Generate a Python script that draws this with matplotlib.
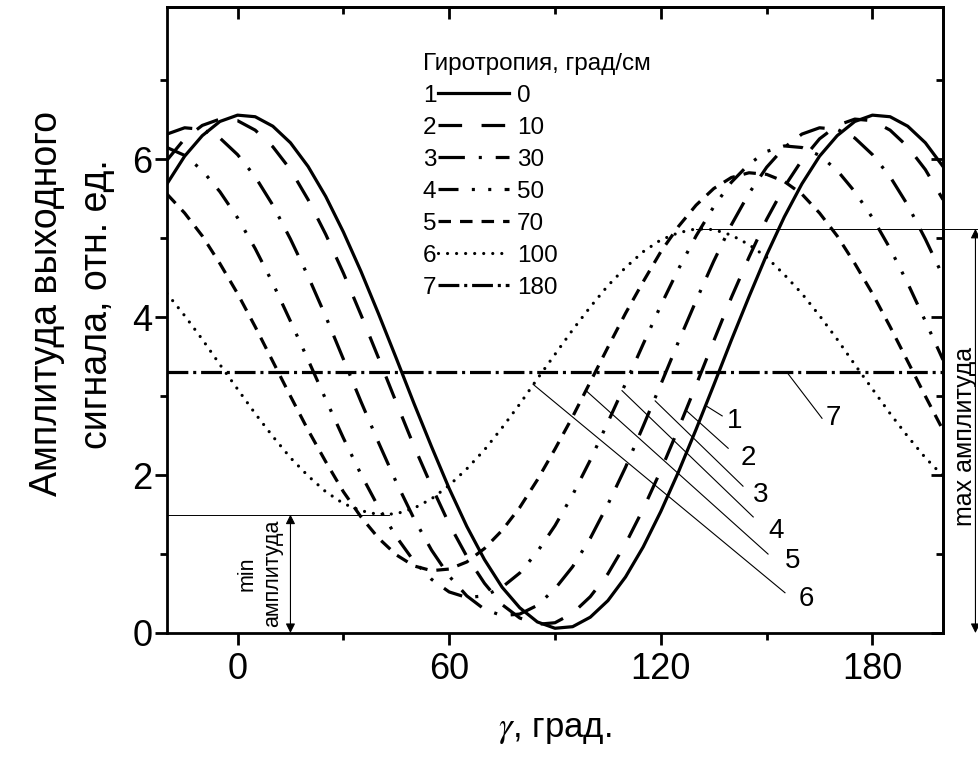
import numpy as np
import matplotlib
matplotlib.use('Agg')
import matplotlib.pyplot as plt
from matplotlib.ticker import MultipleLocator

plt.rcParams['font.family'] = ['Liberation Sans', 'DejaVu Sans']
plt.rcParams['mathtext.fontset'] = 'stix'
plt.rcParams['lines.scale_dashes'] = False

#%% Данные, шаг по углу 5 град.
gamma = np.arange(-20, 201, 5)

amp_0 = [5.69, 6.04, 6.30, 6.48, 6.56, 6.54, 6.42, 6.21, 5.91, 5.53, 5.08, 4.58, 4.04, 3.48, 2.91,
         2.36, 1.83, 1.35, 0.93, 0.58, 0.32, 0.14, 0.06, 0.08, 0.20, 0.41, 0.71, 1.09, 1.54, 2.04,
         2.58, 3.14, 3.71, 4.26, 4.79, 5.27, 5.69, 6.04, 6.30, 6.48, 6.56, 6.54, 6.42, 6.21, 5.91]
amp_10 = [5.99, 6.26, 6.43, 6.51, 6.49, 6.37, 6.16, 5.87, 5.49, 5.05, 4.56, 4.03, 3.48, 2.92, 2.37,
          1.86, 1.38, 0.97, 0.63, 0.36, 0.19, 0.11, 0.13, 0.25, 0.46, 0.75, 1.13, 1.57, 2.06, 2.59,
          3.14, 3.70, 4.25, 4.76, 5.24, 5.65, 5.99, 6.26, 6.43, 6.51, 6.49, 6.37, 6.16, 5.87, 5.49]
amp_30 = [6.32, 6.40, 6.38, 6.27, 6.06, 5.78, 5.42, 4.99, 4.52, 4.01, 3.47, 2.93, 2.41, 1.91, 1.45,
          1.05, 0.72, 0.47, 0.30, 0.22, 0.24, 0.35, 0.56, 0.84, 1.20, 1.63, 2.10, 2.62, 3.15, 3.69,
          4.21, 4.71, 5.17, 5.57, 5.90, 6.15, 6.32, 6.40, 6.38, 6.27, 6.06, 5.78, 5.42, 4.99, 4.52]
amp_50 = [6.15, 6.05, 5.86, 5.59, 5.26, 4.87, 4.43, 3.95, 3.46, 2.96, 2.47, 2.01, 1.59, 1.22, 0.91,
          0.68, 0.52, 0.45, 0.47, 0.58, 0.76, 1.03, 1.36, 1.75, 2.19, 2.67, 3.16, 3.66, 4.15, 4.61,
          5.03, 5.40, 5.71, 5.94, 6.10, 6.17, 6.15, 6.05, 5.86, 5.59, 5.26, 4.87, 4.43, 3.95, 3.46]
amp_70 = [5.56, 5.32, 5.03, 4.68, 4.30, 3.88, 3.44, 3.00, 2.57, 2.17, 1.79, 1.47, 1.20, 0.99, 0.85,
          0.79, 0.81, 0.90, 1.07, 1.30, 1.59, 1.94, 2.33, 2.74, 3.18, 3.62, 4.05, 4.45, 4.83, 5.15,
          5.42, 5.63, 5.77, 5.83, 5.81, 5.72, 5.56, 5.32, 5.03, 4.68, 4.30, 3.88, 3.44, 3.00, 2.57]
amp_100 = [4.30, 4.02, 3.72, 3.40, 3.09, 2.78, 2.49, 2.22, 1.99, 1.79, 1.64, 1.55, 1.50, 1.51, 1.58,
           1.70, 1.87, 2.08, 2.32, 2.60, 2.90, 3.22, 3.53, 3.84, 4.13, 4.40, 4.63, 4.83, 4.98, 5.07,
           5.12, 5.11, 5.04, 4.92, 4.76, 4.54, 4.30, 4.02, 3.72, 3.40, 3.09, 2.78, 2.49, 2.22, 1.99]
gamma_180 = [-20, 200]
amp_180 = [3.31, 3.31]

gyro = ['0', '10', '30', '50', '70', '100', '180']
curve_no = ['1', '2', '3', '4', '5', '6', '7']

# выноски: (x0, y0, x1, y1) и позиции номеров кривых
leaders = [(133.1, 2.87, 137.4, 2.75), (127.4, 2.81, 139.1, 2.34), (118.4, 2.94, 143.3, 1.86),
           (109.0, 3.07, 146.2, 1.47), (98.8, 3.07, 150.4, 1.00), (83.8, 3.15, 155.2, 0.51),
           (155.8, 3.30, 165.7, 2.72)]
label_pos = [(140.8, 2.69), (144.8, 2.22), (148.4, 1.75), (152.6, 1.29), (157.4, 0.91),
             (161.2, 0.43), (168.8, 2.72)]

styles = [
    dict(ls='-'),
    dict(ls=(0, (17, 14))),
    dict(ls=(0, (19, 10, 2.2, 10))),
    dict(ls=(0, (14.4, 9.6, 2.2, 9.6, 2.2, 9.6))),
    dict(ls=(0, (9, 6.5))),
    dict(ls=(0, (0.01, 6.5)), dash_capstyle='round'),
    dict(ls=(0, (15, 3.5, 2.2, 3.5))),
]

#%% Рисунок
fig = plt.figure(figsize=(9.79, 7.6), dpi=100)
ax = fig.add_axes([167 / 979, 1 - 633 / 760, 776 / 979, 626 / 760])

series = [(gamma, amp_0), (gamma, amp_10), (gamma, amp_30), (gamma, amp_50),
          (gamma, amp_70), (gamma, amp_100), (gamma_180, amp_180)]
lines = []
for (xs, ys), st in zip(series, styles):
    ln, = ax.plot(xs, ys, color='black', lw=2.3, **st)
    lines.append(ln)

ax.set_xlim(-20, 200)
ax.set_ylim(0, 7.93)

for sp in ax.spines.values():
    sp.set_linewidth(2)

ax.xaxis.set_major_locator(MultipleLocator(60))
ax.xaxis.set_minor_locator(MultipleLocator(30))
ax.yaxis.set_major_locator(MultipleLocator(2))
ax.yaxis.set_minor_locator(MultipleLocator(1))
ax.tick_params(which='both', direction='out', width=2, top=False, right=False, labelsize=26)
ax.tick_params(which='major', length=8.5)
ax.tick_params(which='minor', length=5)
ax.tick_params(axis='x', pad=5)
ax.tick_params(axis='y', pad=2)

# верхняя и правая оси - риски внутрь
secx = ax.secondary_xaxis('top')
secx.xaxis.set_major_locator(MultipleLocator(60))
secx.xaxis.set_minor_locator(MultipleLocator(30))
secx.tick_params(which='both', direction='in', width=2, labeltop=False)
secx.tick_params(which='major', length=8.5)
secx.tick_params(which='minor', length=5)
secx.spines['top'].set_linewidth(2)
secy = ax.secondary_yaxis('right')
secy.yaxis.set_major_locator(MultipleLocator(2))
secy.yaxis.set_minor_locator(MultipleLocator(1))
secy.tick_params(which='both', direction='in', width=2, labelright=False)
secy.tick_params(which='major', length=8.5)
secy.tick_params(which='minor', length=5)
secy.spines['right'].set_linewidth(2)

fig.text(72 / 979, 0.60, 'Амплитуда выходного\nсигнала, отн. ед.', rotation=90,
         ha='center', va='center', fontsize=27, linespacing=1.5, multialignment='center')
fig.text(555 / 979, 1 - 730 / 760, r'$\gamma$, град.', ha='center', va='center', fontsize=25)

# легенда: номер кривой + образец линии
leg = ax.legend(lines, curve_no, loc='upper left', bbox_to_anchor=(423 / 979, 1 - 53 / 760),
                bbox_transform=fig.transFigure, frameon=False, markerfirst=False,
                title='Гиротропия, град/см', title_fontsize=17.5, fontsize=17.5,
                handlelength=2.95, handletextpad=0.05, labelspacing=0.41,
                borderpad=0, borderaxespad=0, alignment='left')

# значения гиротропии справа от образцов линий, по строкам легенды
fig.canvas.draw()
for txt, val in zip(leg.get_texts(), gyro):
    bb = txt.get_window_extent()
    fig.text(517 / 979, (bb.y0 + bb.y1) / 2 / fig.bbox.height, val, fontsize=17.5,
             ha='left', va='center')

# выноски с номерами кривых
for (x0, y0, x1, y1), (tx, ty), num in zip(leaders, label_pos, curve_no):
    ax.plot([x0, x1], [y0, y1], color='black', lw=0.8)
    ax.text(tx, ty, num, fontsize=20, ha='center', va='center')

# min амплитуда
min_level = min(amp_100)
ax.plot([-20, 43], [min_level, min_level], color='black', lw=0.7)
ax.annotate('', xy=(15, 0), xytext=(15, min_level),
            arrowprops=dict(arrowstyle='<|-|>', lw=0.8, color='black', mutation_scale=14,
                            shrinkA=0, shrinkB=0))
ax.text(6.4, 0.75, 'min\nамплитуда', rotation=90, ha='center', va='center', fontsize=15.5,
        linespacing=1.3, multialignment='center')

# max амплитуда
max_level = max(amp_100)
ax.plot([130, 210], [max_level, max_level], color='black', lw=0.7, clip_on=False)
ax.annotate('', xy=(209.2, 0), xytext=(209.2, max_level), annotation_clip=False,
            arrowprops=dict(arrowstyle='<|-|>', lw=0.8, color='black', mutation_scale=14,
                            shrinkA=0, shrinkB=0))
ax.text(206.3, 2.49, 'max амплитуда', rotation=90, ha='center', va='center', fontsize=18,
        clip_on=False)

plt.savefig('out.png', dpi=100)
